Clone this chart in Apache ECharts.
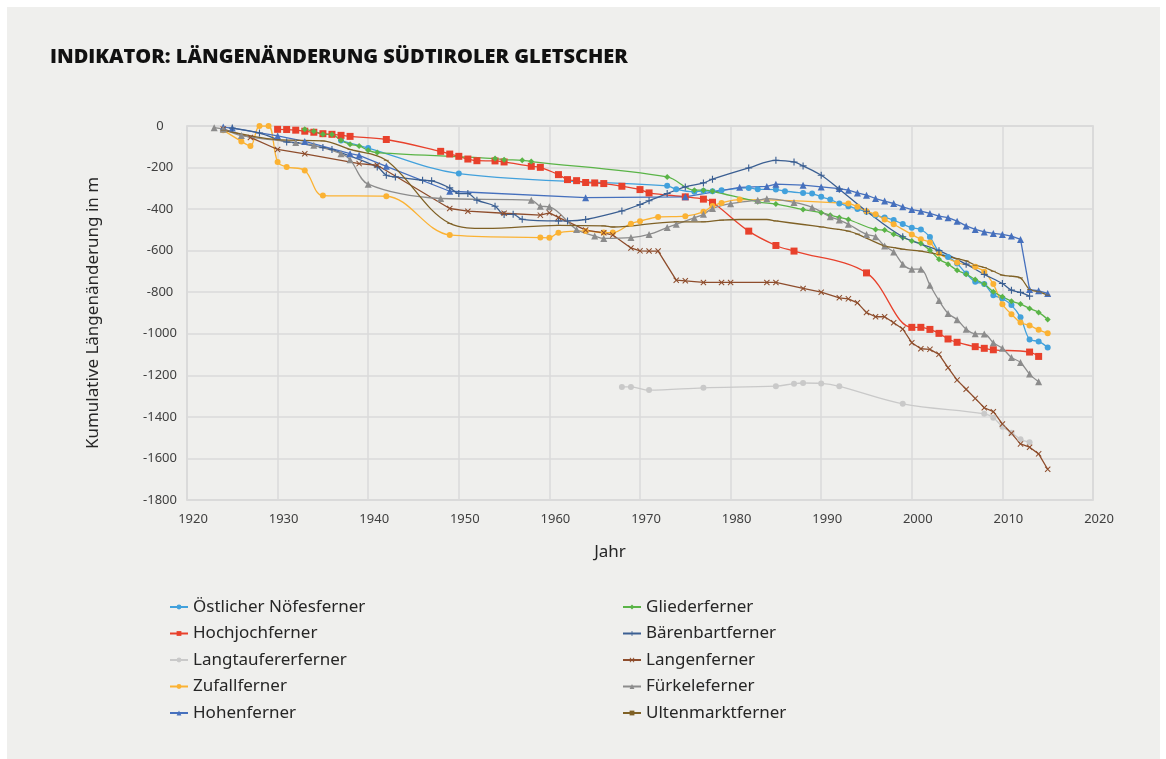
<!DOCTYPE html>
<html>
<head>
<meta charset="utf-8">
<script src="https://cdn.jsdelivr.net/npm/echarts@6/dist/echarts.min.js"></script>
<style>
  html, body { margin: 0; padding: 0; background: #ffffff; }
  #panel { position: absolute; left: 7px; top: 7px; width: 1153px; height: 752px; background: #efefed; }
  #chart { position: absolute; left: 0; top: 0; width: 1166px; height: 759px; }
</style>
</head>
<body>
<div id="panel"></div>
<div id="chart"></div>
<script>
// Längenänderung der Gletscher, [Jahr, kumulative Änderung in m]
const noefes = [[1937,-70],[1940,-106],[1950,-229],[1973,-288],[1974,-305],[1976,-317],[1977,-313],[1978,-314],[1979,-309],[1982,-298],[1983,-304],[1985,-306],[1986,-314],[1988,-322],[1989,-325],[1990,-341],[1991,-354],[1992,-373],[1993,-386],[1994,-400],[1995,-413],[1996,-430],[1997,-440],[1998,-453],[1999,-472],[2000,-490],[2001,-498],[2002,-534],[2003,-606],[2004,-630],[2005,-662],[2006,-710],[2007,-750],[2008,-761],[2009,-814],[2010,-830],[2011,-862],[2012,-921],[2013,-1027],[2014,-1037],[2015,-1066]];
const hochjoch = [[1930,-16],[1931,-17],[1932,-20],[1933,-25],[1934,-30],[1935,-37],[1936,-40],[1937,-45],[1938,-50],[1942,-65],[1948,-122],[1949,-135],[1950,-146],[1951,-159],[1952,-167],[1954,-168],[1955,-173],[1958,-194],[1959,-199],[1961,-234],[1962,-258],[1963,-263],[1964,-272],[1965,-274],[1966,-277],[1968,-290],[1970,-306],[1971,-322],[1975,-341],[1977,-352],[1978,-367],[1982,-506],[1985,-575],[1987,-602],[1995,-707],[2000,-969],[2001,-969],[2002,-979],[2003,-998],[2004,-1025],[2005,-1041],[2007,-1062],[2008,-1070],[2009,-1077],[2013,-1088],[2014,-1109]];
const langtaufer = [[1968,-1256],[1969,-1256],[1971,-1271],[1977,-1260],[1985,-1252],[1987,-1240],[1988,-1237],[1990,-1239],[1992,-1253],[1999,-1337],[2008,-1385],[2009,-1404],[2010,-1447],[2011,-1476],[2012,-1508],[2013,-1522]];
const zufall = [[1924,-20],[1926,-74],[1927,-96],[1928,0],[1929,0],[1930,-173],[1931,-197],[1933,-214],[1935,-335],[1942,-338],[1949,-524],[1959,-537],[1960,-538],[1961,-514],[1964,-505],[1966,-513],[1967,-513],[1969,-470],[1970,-458],[1972,-438],[1975,-434],[1977,-413],[1978,-385],[1979,-370],[1981,-354],[1993,-373],[1994,-389],[1995,-410],[1996,-425],[1997,-450],[1998,-473],[2000,-522],[2001,-545],[2002,-561],[2003,-614],[2005,-657],[2007,-678],[2008,-702],[2009,-761],[2010,-858],[2011,-906],[2012,-946],[2013,-960],[2014,-981],[2015,-998]];
const hohen = [[1924,-5],[1925,-10],[1930,-48],[1933,-74],[1938,-133],[1939,-141],[1942,-194],[1949,-314],[1964,-345],[1975,-341],[1981,-295],[1984,-291],[1985,-280],[1988,-285],[1990,-293],[1992,-301],[1993,-309],[1994,-322],[1995,-333],[1996,-349],[1997,-361],[1998,-373],[1999,-389],[2000,-402],[2001,-410],[2002,-421],[2003,-434],[2004,-441],[2005,-458],[2006,-481],[2007,-498],[2008,-510],[2009,-517],[2010,-522],[2011,-530],[2012,-546],[2013,-787],[2014,-793],[2015,-806]];
const glieder = [[1933,-16],[1934,-25],[1935,-40],[1936,-41],[1937,-69],[1938,-88],[1939,-96],[1940,-117],[1941,-128],[1954,-157],[1955,-162],[1957,-165],[1958,-171],[1973,-245],[1976,-309],[1977,-309],[1978,-314],[1983,-365],[1985,-376],[1988,-402],[1990,-417],[1991,-429],[1992,-440],[1993,-450],[1996,-498],[1997,-501],[1998,-521],[1999,-537],[2000,-553],[2001,-566],[2002,-598],[2003,-641],[2004,-665],[2005,-694],[2006,-713],[2007,-739],[2008,-761],[2009,-798],[2010,-822],[2011,-843],[2012,-857],[2013,-878],[2014,-897],[2015,-931]];
const baerenbart = [[1925,-10],[1928,-34],[1931,-77],[1932,-80],[1935,-104],[1936,-113],[1941,-197],[1942,-237],[1943,-245],[1946,-261],[1947,-264],[1949,-298],[1950,-325],[1951,-325],[1952,-357],[1954,-386],[1955,-426],[1956,-425],[1957,-449],[1961,-457],[1962,-457],[1964,-450],[1968,-409],[1970,-378],[1971,-360],[1973,-325],[1975,-293],[1977,-274],[1978,-256],[1982,-202],[1985,-165],[1987,-173],[1988,-192],[1990,-237],[1992,-304],[1995,-410],[1999,-533],[2003,-600],[2006,-665],[2008,-714],[2010,-758],[2011,-790],[2012,-801],[2013,-819]];
const langen = [[1924,-15],[1927,-55],[1930,-113],[1933,-134],[1939,-181],[1941,-189],[1949,-397],[1951,-410],[1955,-420],[1959,-429],[1960,-418],[1961,-440],[1964,-501],[1966,-514],[1967,-525],[1969,-587],[1970,-601],[1971,-602],[1972,-602],[1974,-742],[1975,-745],[1977,-753],[1979,-753],[1980,-753],[1984,-753],[1985,-753],[1988,-782],[1990,-800],[1992,-827],[1993,-832],[1994,-851],[1995,-898],[1996,-918],[1997,-918],[1998,-947],[1999,-977],[2000,-1043],[2001,-1072],[2002,-1075],[2003,-1099],[2004,-1163],[2005,-1223],[2006,-1267],[2007,-1311],[2008,-1356],[2009,-1375],[2010,-1434],[2011,-1479],[2012,-1530],[2013,-1546],[2014,-1578],[2015,-1652]];
const fuerkele = [[1923,-8],[1924,-16],[1926,-46],[1932,-80],[1934,-93],[1937,-133],[1938,-162],[1940,-280],[1948,-349],[1958,-357],[1959,-386],[1960,-389],[1963,-498],[1965,-529],[1966,-541],[1969,-537],[1971,-522],[1973,-489],[1974,-473],[1976,-442],[1977,-425],[1978,-397],[1980,-374],[1983,-357],[1984,-350],[1987,-368],[1989,-392],[1991,-437],[1992,-453],[1993,-473],[1995,-522],[1996,-533],[1997,-578],[1998,-606],[1999,-665],[2000,-689],[2001,-689],[2002,-766],[2003,-840],[2004,-902],[2005,-932],[2006,-978],[2007,-1000],[2008,-1001],[2009,-1043],[2010,-1070],[2011,-1114],[2012,-1138],[2013,-1194],[2014,-1231]];
const ultenmarkt = [[1924,-20],[1930,-66],[1935,-72],[1938,-113],[1942,-165],[1949,-469],[1953,-493],[1961,-478],[1966,-481],[1967,-486],[1974,-461],[1977,-461],[1979,-453],[1981,-450],[1984,-450],[1985,-457],[1988,-474],[1990,-486],[1992,-498],[1993,-506],[1994,-520],[1997,-578],[1998,-585],[1999,-593],[2001,-602],[2003,-619],[2005,-638],[2006,-649],[2007,-670],[2008,-681],[2009,-699],[2010,-718],[2011,-723],[2012,-731],[2013,-787],[2014,-798],[2015,-814]];

const legendLeft = ['Östlicher Nöfesferner', 'Hochjochferner', 'Langtaufererferner', 'Zufallferner', 'Hohenferner'];
const legendRight = ['Gliederferner', 'Bärenbartferner', 'Langenferner', 'Fürkeleferner', 'Ultenmarktferner'];

const plusPath = 'path://M0,4.2H10V5.8H0Z M4.2,0H5.8V10H4.2Z';
const crossPath = 'path://M1.2,0L5,3.8L8.8,0L10,1.2L6.2,5L10,8.8L8.8,10L5,6.2L1.2,10L0,8.8L3.8,5L0,1.2Z';
const dashPath = 'path://M0,0H5V2H0Z';
const font = 'Noto Sans';

function line(name, data, color, symbol, size, smooth) {
  return {
    name: name,
    type: 'line',
    data: data,
    smooth: smooth ? 0.35 : false,
    symbol: symbol,
    symbolSize: size,
    symbolKeepAspect: true,
    showSymbol: true,
    lineStyle: { color: color, width: 1.3 },
    itemStyle: { color: color, borderWidth: 0 },
    emphasis: { disabled: true }
  };
}

let chart = echarts.init(document.getElementById('chart'));
chart.setOption({
  animation: false,
  backgroundColor: 'transparent',
  textStyle: { fontFamily: font },
  title: {
    text: 'INDIKATOR: LÄNGENÄNDERUNG SÜDTIROLER GLETSCHER',
    left: 45,
    top: 42,
    textStyle: { fontFamily: 'Open Sans', fontWeight: 800, fontSize: 20, color: '#111111' }
  },
  grid: {
    left: 187, right: 73, top: 126, bottom: 259,
    show: true, borderColor: '#d3d3d3', borderWidth: 1.5
  },
  xAxis: {
    type: 'value',
    min: 1920, max: 2020, interval: 10,
    name: 'Jahr',
    nameLocation: 'middle',
    nameGap: 44,
    nameTextStyle: { fontSize: 17, color: '#262626', padding: [0, 60, 0, 0] },
    axisLine: { show: false },
    axisTick: { show: false },
    axisLabel: { fontSize: 13, color: '#404040', margin: 13, padding: [0, 0, 0, 12], formatter: v => String(v) },
    splitLine: { lineStyle: { color: '#dadada', width: 1.5 } }
  },
  yAxis: {
    type: 'value',
    min: -1800, max: 0, interval: 200,
    name: 'Kumulative Längenänderung in m',
    nameLocation: 'middle',
    nameGap: 85,
    nameTextStyle: { fontSize: 17, color: '#262626' },
    axisLine: { show: false },
    axisTick: { show: false },
    axisLabel: { fontSize: 13, color: '#404040', margin: 27, align: 'center', formatter: v => String(v) },
    splitLine: { lineStyle: { color: '#dadada', width: 1.5 } }
  },
  legend: [
    {
      data: legendLeft, orient: 'vertical', left: 164, top: 592,
      itemWidth: 18, itemHeight: 6, itemGap: 6.5,
      textStyle: { fontSize: 17, color: '#262626', lineHeight: 20 }
    },
    {
      data: legendRight, orient: 'vertical', left: 617, top: 592,
      itemWidth: 18, itemHeight: 6, itemGap: 6.5,
      textStyle: { fontSize: 17, color: '#262626', lineHeight: 20 }
    }
  ],
  series: [
    line('Östlicher Nöfesferner', noefes, '#42a1dc', 'circle', 6, true),
    line('Hochjochferner', hochjoch, '#e8412c', 'rect', 7, true),
    line('Langtaufererferner', langtaufer, '#c9c9c9', 'circle', 6, true),
    line('Zufallferner', zufall, '#fbb233', 'circle', 6, true),
    line('Hohenferner', hohen, '#4670bd', 'triangle', 7, false),
    line('Gliederferner', glieder, '#5ab447', 'diamond', 6, true),
    line('Bärenbartferner', baerenbart, '#3b5f92', plusPath, 7, true),
    line('Langenferner', langen, '#8e4d2c', crossPath, 6, false),
    line('Fürkeleferner', fuerkele, '#8c8c8c', 'triangle', 7, true),
    line('Ultenmarktferner', ultenmarkt, '#7f6126', dashPath, [5, 2], true)
  ]
});
</script>
</body>
</html>
